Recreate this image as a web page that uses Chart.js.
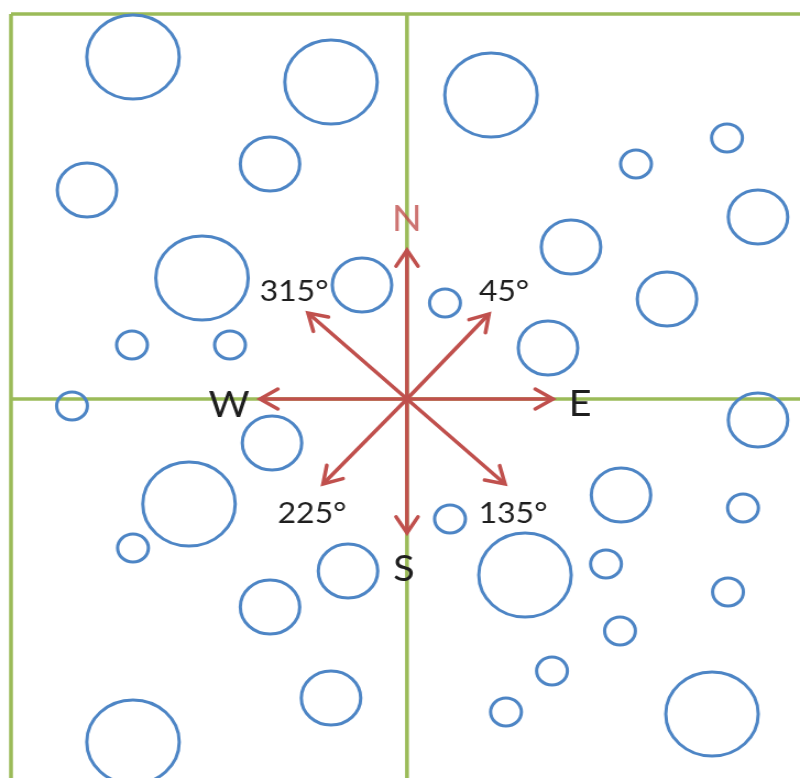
<!DOCTYPE html>
<html>
<head>
<meta charset="utf-8">
<script src="https://cdn.jsdelivr.net/npm/chart.js@4/dist/chart.umd.min.js"></script>
<style>
  html, body { margin: 0; padding: 0; background: #fff; overflow: hidden; }
  #wrap { width: 727px; height: 778px; transform: scaleX(1.1004); transform-origin: 0 0; }
</style>
</head>
<body>
<div id="wrap"><canvas id="bussola" width="727" height="778"></canvas></div>
<script>
// circulos (coordenadas da figura, y para baixo)
const circleX = [133, 331, 491, 270, 87, 636, 727, 758, 571, 202, 362, 445, 667, 548, 132, 230, 72, 272,
  758, 621, 743, 189, 450, 133, 348, 525, 606, 728, 270, 620, 552, 331, 506, 712, 133];
const circleY = [57, 82, 95, 164, 190, 164, 138, 217, 247, 278, 285, 303, 299, 348, 345, 345, 406, 443,
  420, 495, 508, 504, 519, 548, 571, 575, 564, 592, 607, 631, 671, 698, 712, 714, 742];
const circleR = [42, 42, 42, 27, 27, 14, 14, 27, 27, 42, 27, 14, 27, 27, 14, 14, 14, 27,
  27, 27, 14, 42, 14, 14, 27, 42, 14, 14, 27, 14, 14, 27, 14, 42, 42];

// rosa dos ventos
const centro = [407, 399];
const setaX = [407, 489, 553, 505, 407, 323, 260, 308];
const setaY = [250, 314, 399, 484, 533, 484, 399, 313];

// rotulos
const rotulos = ["N", "E", "W", "S", "315°", "45°", "225°", "135°"];
const rotuloX = [407, 580, 229, 404, 294, 504, 312, 513];
const rotuloY = [219, 404, 405, 569, 292, 292, 514, 514];

// linhas verdes [x1, y1, x2, y2]
const linhas = [
  [11, 14, 800, 14],
  [11, 14, 11, 778],
  [407, 14, 407, 778],
  [11, 399, 800, 399]
];

const vermelho = "#c0504d";

const pontas = {
  id: "pontas",
  afterDatasetsDraw(chart) {
    const ctx = chart.ctx;
    chart.data.datasets.forEach((ds, i) => {
      if (!ds.seta) return;
      const pts = chart.getDatasetMeta(i).data;
      const a = pts[0], b = pts[1];
      const ang = Math.atan2(b.y - a.y, b.x - a.x);
      const L = 19, abre = 0.55;
      ctx.save();
      ctx.strokeStyle = vermelho;
      ctx.lineWidth = 3.5;
      ctx.lineJoin = "miter";
      ctx.lineCap = "round";
      ctx.beginPath();
      ctx.moveTo(b.x - L * Math.cos(ang - abre), b.y - L * Math.sin(ang - abre));
      ctx.lineTo(b.x, b.y);
      ctx.lineTo(b.x - L * Math.cos(ang + abre), b.y - L * Math.sin(ang + abre));
      ctx.stroke();
      ctx.restore();
    });
  },
  afterDraw(chart) {
    const ctx = chart.ctx;
    const sx = chart.scales.x, sy = chart.scales.y;
    ctx.save();
    ctx.textAlign = "center";
    ctx.textBaseline = "middle";
    rotulos.forEach((t, i) => {
      const letra = t.length == 1;
      ctx.font = (letra ? "36px" : "29px") + " Lato, 'Open Sans', sans-serif";
      ctx.fillStyle = t == "N" ? "rgba(192,80,77,0.8)" : "#1e1e1e";
      ctx.fillText(t, sx.getPixelForValue(rotuloX[i]), sy.getPixelForValue(rotuloY[i]));
    });
    ctx.restore();
  }
};

const datasets = [];

setaX.forEach((x, i) => {
  datasets.push({
    type: "line",
    seta: true,
    data: [{ x: centro[0], y: centro[1] }, { x: x, y: setaY[i] }],
    borderColor: vermelho,
    borderWidth: 3.5,
    pointRadius: 0,
    showLine: true,
    order: 0
  });
});

datasets.push({
  type: "bubble",
  data: circleX.map((x, i) => ({ x: x, y: circleY[i], r: circleR[i] })),
  backgroundColor: "rgba(0,0,0,0)",
  borderColor: "#4d85c5",
  borderWidth: 3,
  order: 1
});

linhas.forEach((l) => {
  datasets.push({
    type: "line",
    data: [{ x: l[0], y: l[1] }, { x: l[2], y: l[3] }],
    borderColor: "#9bbb59",
    borderWidth: 3.5,
    pointRadius: 0,
    showLine: true,
    order: 2
  });
});

new Chart(document.getElementById("bussola"), {
  type: "scatter",
  data: { datasets: datasets },
  options: {
    responsive: false,
    animation: false,
    layout: { padding: 0, autoPadding: false },
    scales: {
      x: { type: "linear", min: 0, max: 800, display: false },
      y: { type: "linear", min: 0, max: 778, reverse: true, display: false }
    },
    plugins: {
      legend: { display: false },
      tooltip: { enabled: false }
    }
  },
  plugins: [pontas]
});
</script>
</body>
</html>
